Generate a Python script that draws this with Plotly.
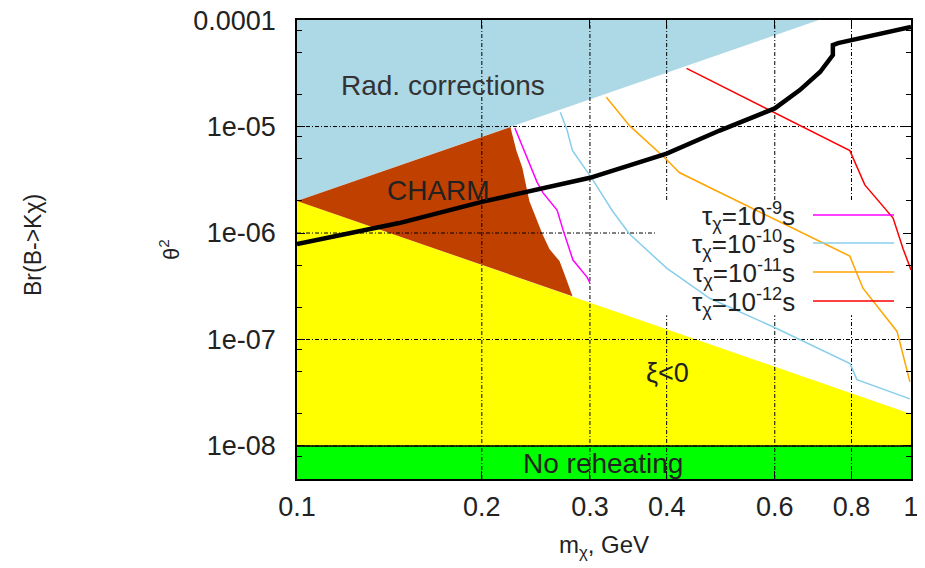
import plotly.graph_objects as go

# ---------------- data ----------------
X_LOG_RANGE = [-1.0, 0.0]          # m_chi from 0.1 to 1 GeV
Y_LOG_RANGE = [-8.31, -3.9995]     # theta^2

# lower edge of the "Rad. corrections" excluded region
rad_m = [0.1, 1.0]
rad_theta2 = [2e-6, 2e-4]

# upper edge of the "xi<0" region
xi_m = [0.1, 1.0]
xi_theta2 = [2e-6, 2e-8]

# "No reheating" threshold
reheat_theta2 = 1e-8

# CHARM excluded region (polygon)
charm_m = [0.1, 0.2226, 0.2277, 0.2328, 0.239, 0.251, 0.2577, 0.2676, 0.2727, 0.281]
charm_theta2 = [2e-6, 9.9e-6, 5.94e-6, 4.1e-6, 2.0e-6, 9.8e-7, 7.06e-7, 5.45e-7, 4.1e-7, 2.55e-7]

# lifetime contours
tau9_m = [0.2264, 0.2377, 0.246, 0.2516, 0.2652, 0.2712, 0.2784, 0.2815, 0.2967, 0.300]
tau9_theta2 = [9.7e-6, 4.84e-6, 3.01e-6, 2.38e-6, 1.64e-6, 1.07e-6, 6.9e-7, 5.57e-7, 3.86e-7, 3.4e-7]

tau10_m = [0.2685, 0.2753, 0.281, 0.3018, 0.3265, 0.348, 0.40, 0.47, 0.6043, 0.7955, 0.8164, 0.996]
tau10_theta2 = [1.36e-5, 9.27e-6, 5.94e-6, 3.3e-6, 1.61e-6, 9.8e-7, 4.68e-7, 2.44e-7, 1.27e-7, 5.94e-8, 4.2e-8, 2.77e-8]

tau11_m = [0.319, 0.348, 0.397, 0.42, 0.795, 0.835, 0.949, 0.996]
tau11_theta2 = [1.88e-5, 1.02e-5, 5.1e-6, 3.68e-6, 6.07e-7, 3.03e-7, 1.19e-7, 4.0e-8]

tau12_m = [0.431, 0.795, 0.841, 0.935, 0.970, 1.0]
tau12_theta2 = [3.52e-5, 5.94e-6, 2.83e-6, 1.38e-6, 7.2e-7, 4.5e-7]

# Br(B -> K chi) curve
br_m = [0.1, 0.1467, 0.2, 0.3, 0.4, 0.488, 0.6, 0.659, 0.711, 0.746, 0.746, 0.7605, 1.0]
br_theta2 = [7.87e-7, 1.24e-6, 1.96e-6, 3.3e-6, 5.56e-6, 9.17e-6, 1.48e-5, 2.2e-5, 3.25e-5,
             4.69e-5, 5.82e-5, 6.08e-5, 8.6e-5]

x_tickvals = [0.1, 0.2, 0.3, 0.4, 0.6, 0.8, 1.0]
x_ticktext = ["0.1", "0.2", "0.3", "0.4", "0.6", "0.8", "1"]
y_tickvals = [1e-8, 1e-7, 1e-6, 1e-5, 1e-4]
y_ticktext = ["1e-08", "1e-07", "1e-06", "1e-05", "0.0001"]
y_minor = [k * 10.0 ** e for e in range(-9, -4) for k in (2, 5, 8)]

x_grid = [0.2, 0.3, 0.4, 0.6, 0.8]
y_grid = [1e-8, 1e-7, 1e-6, 1e-5]

legend_labels = ["τ<sub>χ</sub>=10<sup>-9</sup>s", "τ<sub>χ</sub>=10<sup>-10</sup>s",
                 "τ<sub>χ</sub>=10<sup>-11</sup>s", "τ<sub>χ</sub>=10<sup>-12</sup>s"]
legend_colors = ["#ff00ff", "#87ceeb", "#ffa500", "#ff0000"]

FONT = "Liberation Sans, Arial, Helvetica, sans-serif"

xmin, xmax = 10 ** X_LOG_RANGE[0], 10 ** X_LOG_RANGE[1]
ymin, ymax = 10 ** Y_LOG_RANGE[0], 10 ** Y_LOG_RANGE[1]
BIG = 1e-3
SMALL = 1e-10

fig = go.Figure()

# Rad. corrections (light blue)
fig.add_trace(go.Scatter(
    x=rad_m + [rad_m[0]], y=rad_theta2 + [BIG], mode="none", fill="toself",
    fillcolor="#add8e6", hoverinfo="skip", showlegend=False))

# xi<0 (yellow)
fig.add_trace(go.Scatter(
    x=xi_m + [xi_m[-1], xi_m[0]], y=xi_theta2 + [SMALL, SMALL], mode="none", fill="toself",
    fillcolor="#ffff00", hoverinfo="skip", showlegend=False))

# CHARM (brown)
fig.add_trace(go.Scatter(
    x=charm_m, y=charm_theta2, mode="none", fill="toself",
    fillcolor="#c04000", hoverinfo="skip", showlegend=False))

# No reheating (green)
fig.add_trace(go.Scatter(
    x=[xmin, xmax, xmax, xmin], y=[reheat_theta2, reheat_theta2, SMALL, SMALL],
    mode="none", fill="toself", fillcolor="#00ff00", hoverinfo="skip", showlegend=False))
fig.add_trace(go.Scatter(
    x=[xmin, xmax], y=[reheat_theta2, reheat_theta2], mode="lines",
    line=dict(color="black", width=1.5), hoverinfo="skip", showlegend=False))

# grid lines drawn above the filled regions
gx, gy = [], []
for v in x_grid:
    gx += [v, v, None]
    gy += [ymin, ymax, None]
for v in y_grid:
    gx += [xmin, xmax, None]
    gy += [v, v, None]
fig.add_trace(go.Scatter(
    x=gx, y=gy, mode="lines", line=dict(color="black", width=1, dash="4px,2px,1px,2px"),
    hoverinfo="skip", showlegend=False))

# key box blanks the grid
kx0, kx1, ky0, ky1 = 0.586, 1.0, 0.357, 0.608
bx = [10 ** (X_LOG_RANGE[0] + p * (X_LOG_RANGE[1] - X_LOG_RANGE[0])) for p in (kx0, kx1, kx1, kx0)]
by = [10 ** (Y_LOG_RANGE[0] + p * (Y_LOG_RANGE[1] - Y_LOG_RANGE[0])) for p in (ky0, ky0, ky1, ky1)]
fig.add_trace(go.Scatter(x=bx, y=by, mode="none", fill="toself", fillcolor="white",
                         hoverinfo="skip", showlegend=False))

# lifetime curves
for xs, ys, c in [(tau9_m, tau9_theta2, legend_colors[0]),
                  (tau10_m, tau10_theta2, legend_colors[1]),
                  (tau11_m, tau11_theta2, legend_colors[2]),
                  (tau12_m, tau12_theta2, legend_colors[3])]:
    fig.add_trace(go.Scatter(x=xs, y=ys, mode="lines", line=dict(color=c, width=1.5),
                             showlegend=False))

# Br(B->K chi)
fig.add_trace(go.Scatter(x=br_m, y=br_theta2, mode="lines",
                         line=dict(color="black", width=4.5), showlegend=False))

# the page body has an 8px margin, so the figure is drawn 8px smaller and offset
OFF = 8
W, H = 925 - OFF, 568 - OFF
L, R, T, B = 297 - OFF, 14, 20 - OFF, 89


def px(xp):
    return (xp - OFF - L) / (W - L - R)


def py(yp):
    return (H - B - (yp - OFF)) / (H - T - B)


ann = []


def text(t, x, y, size=24, color="black", **kw):
    ann.append(dict(text=t, x=px(x), y=py(y), xref="paper", yref="paper", showarrow=False,
                    yanchor="middle", font=dict(family=FONT, size=size, color=color), **kw))


text("Rad. corrections", 443, 85, 28, "#333333", xanchor="center")
text("CHARM", 438, 190, 28, "#222222", xanchor="center")
text("ξ&lt;0", 667, 373, 27, "#222222", xanchor="center")
text("No reheating", 603, 463, 28, "#222222", xanchor="center")
text("Br(B-&gt;Kχ)", 33, 245, 23, "#222222", xanchor="center", textangle=-90)

shapes = []
leg_y = [215, 243, 272, 301]
for lab, c, yy in zip(legend_labels, legend_colors, leg_y):
    text(lab, 797, yy + 1, 26, "#222222", xanchor="right")
    shapes.append(dict(type="line", xref="paper", yref="paper", x0=px(813), x1=px(894),
                       y0=py(yy), y1=py(yy), line=dict(color=c, width=1.5)))

fig.update_layout(
    width=W, height=H, margin=dict(l=L, r=R, t=T, b=B, autoexpand=False),
    paper_bgcolor="white", plot_bgcolor="white",
    font=dict(family=FONT, size=26, color="#222222"),
    annotations=ann, shapes=shapes, showlegend=False,
)
fig.update_xaxes(
    type="log", range=X_LOG_RANGE, tickvals=x_tickvals, ticktext=x_ticktext,
    showgrid=False, zeroline=False, showline=True, linecolor="black", linewidth=1.5,
    mirror="allticks", ticks="inside", ticklen=8, tickcolor="black", tickwidth=1,
    tickfont=dict(size=27), ticklabelstandoff=3, automargin=False, ticklabeloverflow="allow",
    title=dict(text="m<sub>χ</sub>, GeV", font=dict(size=24), standoff=15),
)
fig.update_yaxes(
    type="log", range=Y_LOG_RANGE, tickvals=y_tickvals, ticktext=y_ticktext,
    showgrid=False, zeroline=False, showline=True, linecolor="black", linewidth=1.5,
    mirror="allticks", ticks="inside", ticklen=8, tickcolor="black", tickwidth=1,
    tickfont=dict(size=27), ticklabelstandoff=14, automargin=False, ticklabeloverflow="allow",
    minor=dict(tickvals=y_minor, ticks="inside", ticklen=5, tickcolor="black", showgrid=False),
    title=dict(text="θ<sup>2</sup>", font=dict(size=22), standoff=8),
)

fig.write_html("out.html")
